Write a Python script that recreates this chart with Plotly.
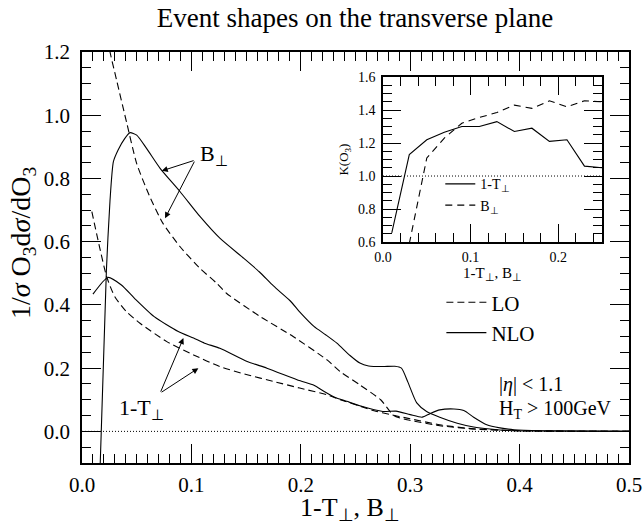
import plotly.graph_objects as go

# ---------------- main panel data ----------------
bnlo_x = [0.0165, 0.0223, 0.0256, 0.0287, 0.033, 0.039, 0.0439, 0.05, 0.059, 0.0714, 0.0897,
          0.108, 0.126, 0.148, 0.162, 0.175, 0.19, 0.2, 0.212, 0.223, 0.233, 0.245, 0.254,
          0.262, 0.275, 0.286, 0.292, 0.298, 0.306, 0.315, 0.327, 0.343, 0.358, 0.373, 0.39,
          0.42, 0.5]
bnlo_y = [-0.12, 0.51, 0.73, 0.853, 0.89, 0.926, 0.945, 0.937, 0.895, 0.832, 0.758,
          0.679, 0.611, 0.547, 0.505, 0.46, 0.414, 0.374, 0.332, 0.305, 0.279, 0.24, 0.216,
          0.207, 0.205, 0.206, 0.2, 0.155, 0.09, 0.063, 0.045, 0.026, 0.014, 0.0075, 0.003,
          0.001, 0.0]

blo_x = [0.015, 0.02, 0.0256, 0.0317, 0.041, 0.05, 0.062, 0.074, 0.0897, 0.108, 0.123, 0.132,
         0.163, 0.193, 0.224, 0.236, 0.254, 0.273, 0.285, 0.297, 0.327, 0.358, 0.39, 0.42, 0.5]
blo_y = [1.48, 1.31, 1.2, 1.11, 0.974, 0.847, 0.742, 0.658, 0.584, 0.515, 0.469, 0.437,
         0.363, 0.3, 0.226, 0.189, 0.147, 0.1, 0.05, 0.037, 0.018, 0.0075, 0.003, 0.001, 0.0]

tnlo_x = [0.01, 0.0238, 0.036, 0.048, 0.066, 0.088, 0.102, 0.112, 0.126, 0.151, 0.169, 0.1995,
          0.212, 0.221, 0.231, 0.242, 0.254, 0.275, 0.287, 0.3, 0.311, 0.318, 0.327, 0.34, 0.349,
          0.358, 0.37, 0.382, 0.395, 0.42, 0.5]
tnlo_y = [0.434, 0.487, 0.463, 0.421, 0.363, 0.316, 0.295, 0.279, 0.263, 0.221, 0.2, 0.16,
          0.146, 0.127, 0.108, 0.095, 0.081, 0.063, 0.064, 0.053, 0.045, 0.056, 0.068, 0.071,
          0.066, 0.045, 0.021, 0.011, 0.005, 0.002, 0.0]

tlo_x = [0.009, 0.0226, 0.03, 0.0405, 0.053, 0.0775, 0.102, 0.126, 0.151, 0.175, 0.199, 0.224,
         0.236, 0.254, 0.267, 0.282, 0.297, 0.327, 0.358, 0.39, 0.42, 0.5]
tlo_y = [0.695, 0.489, 0.426, 0.379, 0.342, 0.284, 0.242, 0.205, 0.179, 0.158, 0.137, 0.116,
         0.1, 0.08, 0.065, 0.053, 0.042, 0.021, 0.008, 0.003, 0.001, 0.0]

# ---------------- inset (K factor) data ----------------
k_x = [0.01, 0.03, 0.05, 0.07, 0.09, 0.11, 0.13, 0.15, 0.17, 0.19, 0.21, 0.23, 0.25]
k_t = [0.655, 1.13, 1.22, 1.265, 1.30, 1.30, 1.33, 1.27, 1.29, 1.21, 1.22, 1.06, 1.05]
k_b = [None, 0.59, 1.11, 1.23, 1.32, 1.355, 1.385, 1.43, 1.41, 1.456, 1.42, 1.456, 1.45]

main_xticks = [0.0, 0.1, 0.2, 0.3, 0.4, 0.5]
main_yticks = [0.0, 0.2, 0.4, 0.6, 0.8, 1.0, 1.2]
inset_xticks = [0.0, 0.1, 0.2]
inset_yticks = [0.6, 0.8, 1.0, 1.2, 1.4, 1.6]

SERIF = "Liberation Serif, Times New Roman, serif"
DASH = "7px,4px"

fig = go.Figure()

# main curves
fig.add_trace(go.Scatter(x=blo_x, y=blo_y, mode="lines", name="LO", legend="legend",
                         line=dict(color="black", width=1.1, dash=DASH, shape="spline", smoothing=0.6),
                         legendrank=1))
fig.add_trace(go.Scatter(x=bnlo_x, y=bnlo_y, mode="lines", name="NLO", legend="legend",
                         line=dict(color="black", width=1.1, shape="spline", smoothing=0.6),
                         legendrank=2))
fig.add_trace(go.Scatter(x=tlo_x, y=tlo_y, mode="lines", showlegend=False,
                         line=dict(color="black", width=1.1, dash=DASH, shape="spline", smoothing=0.6)))
fig.add_trace(go.Scatter(x=tnlo_x, y=tnlo_y, mode="lines", showlegend=False,
                         line=dict(color="black", width=1.1, shape="spline", smoothing=0.6)))

# inset curves
fig.add_trace(go.Scatter(x=k_x, y=k_t, mode="lines", name="1-T<sub>⊥</sub>", legend="legend2",
                         xaxis="x2", yaxis="y2", line=dict(color="black", width=1.1)))
fig.add_trace(go.Scatter(x=k_x, y=k_b, mode="lines", name="B<sub>⊥</sub>", legend="legend2",
                         xaxis="x2", yaxis="y2", line=dict(color="black", width=1.1, dash="7px,5px")))

def axis_style(**kw):
    base = dict(showline=True, linecolor="black", linewidth=1.5, mirror="allticks",
                ticks="inside", tickcolor="black", showgrid=False, zeroline=False,
                automargin=False)
    base.update(kw)
    return base

fig.update_layout(
    template="none",
    width=644, height=527,
    margin=dict(l=82, r=15, t=52, b=64, autoexpand=False),
    paper_bgcolor="white", plot_bgcolor="white",
    font=dict(family=SERIF, color="black"),
    title=dict(text="Event shapes on the transverse plane", x=355 / 644, xanchor="center",
               y=1 - 18 / 527, yanchor="middle", yref="container", xref="container",
               font=dict(size=27, family=SERIF, color="black")),
    xaxis=axis_style(range=[0, 0.5], tickvals=main_xticks, tickformat=".1f", ticklen=19, tickwidth=1.2,
                     minor=dict(dtick=0.01, tick0=0, ticklen=9, ticks="inside", tickcolor="black", tickwidth=1),
                     tickfont=dict(size=21, family=SERIF), ticklabelstandoff=2),
    yaxis=axis_style(range=[-0.1, 1.2], tickvals=main_yticks, tickformat=".1f", ticklen=19, tickwidth=1.2,
                     minor=dict(dtick=0.05, tick0=0, ticklen=9, ticks="inside", tickcolor="black", tickwidth=1),
                     tickfont=dict(size=21, family=SERIF), ticklabelstandoff=6),
    xaxis2=axis_style(domain=[0.5503, 0.9506], anchor="y2", range=[0, 0.25], tickvals=inset_xticks,
                      tickformat=".1f", ticklen=18, tickwidth=1,
                      minor=dict(dtick=0.02, tick0=0, ticklen=9, ticks="inside", tickcolor="black", tickwidth=1),
                      tickfont=dict(size=14, family=SERIF), ticklabelstandoff=1,
                      title=dict(text="1-T<sub>⊥</sub>, B<sub>⊥</sub>", font=dict(size=15, family=SERIF), standoff=0)),
    yaxis2=axis_style(domain=[0.5377, 0.939], anchor="x2", range=[0.6, 1.6],
                      tickvals=inset_yticks, tickformat=".1f", ticklen=18, tickwidth=1,
                      minor=dict(dtick=0.05, tick0=0.6, ticklen=9, ticks="inside", tickcolor="black", tickwidth=1),
                      tickfont=dict(size=14, family=SERIF), ticklabelstandoff=3,
                      title=dict(text="K(O<sub>3</sub>)", font=dict(size=13, family=SERIF), standoff=6)),
    legend=dict(x=0.657, y=0.44, xanchor="left", yanchor="top", bgcolor="rgba(0,0,0,0)",
                font=dict(size=21, family=SERIF), itemwidth=40, tracegroupgap=0),
    legend2=dict(x=0.655, y=0.717, xanchor="left", yanchor="top", bgcolor="rgba(0,0,0,0)",
                 font=dict(size=14, family=SERIF), itemwidth=30, tracegroupgap=0),
    showlegend=True,
)

# dotted reference lines
fig.add_shape(type="line", xref="x", yref="y", x0=0, x1=0.5, y0=0, y1=0,
              line=dict(color="black", width=1, dash="1px,2px"))
fig.add_shape(type="line", xref="x2", yref="y2", x0=0, x1=0.25, y0=1.0, y1=1.0,
              line=dict(color="black", width=1, dash="1px,2px"))

# axis titles of main plot
fig.add_annotation(text="1/<i>σ</i> O<sub>3</sub>d<i>σ</i>/dO<sub>3</sub>", xref="paper", yref="paper",
                   x=(22 - 82) / 547, y=(463 - 243) / 411, textangle=-90, showarrow=False,
                   font=dict(size=28, family=SERIF, color="black"), xanchor="center", yanchor="middle")
fig.add_annotation(text="1-T<sub>⊥</sub>, B<sub>⊥</sub>", xref="paper", yref="paper",
                   x=(350 - 82) / 547, y=(463 - 509) / 411, showarrow=False,
                   font=dict(size=26, family=SERIF, color="black"), xanchor="center", yanchor="middle")

# arrows
arrow = dict(showarrow=True, arrowhead=2, arrowsize=1.2, arrowwidth=1, arrowcolor="black",
             axref="x", ayref="y", xref="x", yref="y", text="", standoff=0, startstandoff=0)
fig.add_annotation(x=0.0729, y=0.824, ax=0.1034, ay=0.858, **arrow)
fig.add_annotation(x=0.0759, y=0.674, ax=0.1034, ay=0.858, **arrow)
fig.add_annotation(x=0.0927, y=0.295, ax=0.0714, ay=0.121, **arrow)
fig.add_annotation(x=0.1064, y=0.200, ax=0.0714, ay=0.121, **arrow)

fig.add_annotation(text="B<sub>⊥</sub>", x=0.106, y=0.875, xref="x", yref="y", showarrow=False,
                   xanchor="left", yanchor="middle", font=dict(size=22, family=SERIF, color="black"))
fig.add_annotation(text="1-T<sub>⊥</sub>", x=0.054, y=0.07, xref="x", yref="y", showarrow=False,
                   xanchor="center", yanchor="middle", font=dict(size=22, family=SERIF, color="black"))

fig.add_annotation(text="|<i>η</i>| &lt; 1.1", x=0.379, y=(431.7 - 385) / 316.7, xref="x", yref="y",
                   showarrow=False, xanchor="left", yanchor="middle",
                   font=dict(size=20, family=SERIF, color="black"))
fig.add_annotation(text="H<sub>T</sub> &gt; 100GeV", x=0.379, y=(431.7 - 410) / 316.7, xref="x", yref="y",
                   showarrow=False, xanchor="left", yanchor="middle",
                   font=dict(size=20, family=SERIF, color="black"))

fig.write_html("out.html", config={"displayModeBar": False},
               post_script="document.body.style.margin='0px';document.body.style.overflow='hidden';")
